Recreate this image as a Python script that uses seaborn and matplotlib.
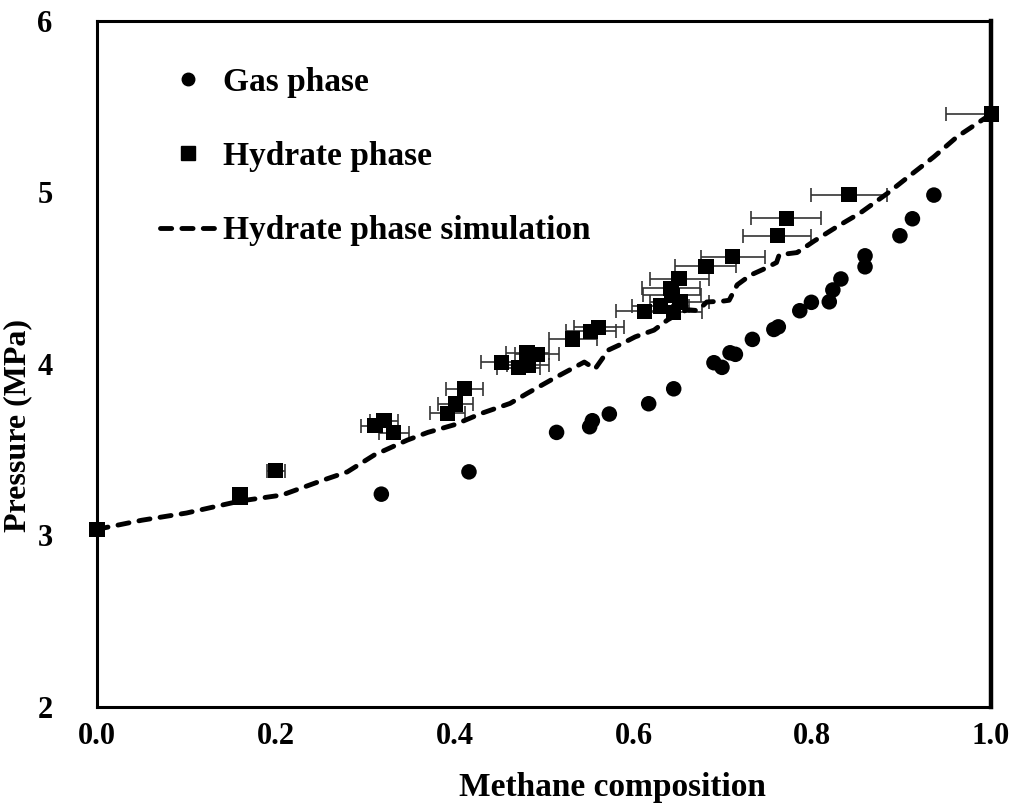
import matplotlib
matplotlib.use("Agg")
import matplotlib.pyplot as plt
from matplotlib.lines import Line2D
from matplotlib.ticker import FixedLocator, FormatStrFormatter
import seaborn as sns
import pandas as pd

# Gas-phase composition vs pressure
gas_x = [0.318, 0.416, 0.514, 0.551, 0.554, 0.573, 0.617, 0.645, 0.690, 0.699,
         0.708, 0.714, 0.733, 0.757, 0.762, 0.786, 0.799, 0.819, 0.823, 0.832,
         0.859, 0.859, 0.898, 0.912, 0.936]
gas_p = [3.24, 3.37, 3.60, 3.633, 3.668, 3.707, 3.767, 3.854, 4.006, 3.979,
         4.064, 4.055, 4.142, 4.200, 4.215, 4.309, 4.358, 4.361, 4.430, 4.494,
         4.565, 4.629, 4.746, 4.845, 4.983]

# Hydrate-phase composition vs pressure, with composition uncertainty
hyd_x = [0.000, 0.160, 0.160, 0.200, 0.311, 0.321, 0.332, 0.392, 0.401, 0.411,
         0.452, 0.471, 0.481, 0.482, 0.492, 0.532, 0.552, 0.561, 0.612, 0.630,
         0.642, 0.643, 0.645, 0.652, 0.651, 0.681, 0.711, 0.761, 0.771, 0.841,
         1.000]
hyd_p = [3.035, 3.240, 3.220, 3.376, 3.640, 3.668, 3.598, 3.711, 3.765, 3.854,
         4.008, 3.977, 4.064, 3.990, 4.055, 4.144, 4.190, 4.212, 4.306, 4.336,
         4.440, 4.400, 4.300, 4.360, 4.495, 4.569, 4.624, 4.746, 4.847, 4.985,
         5.455]
hyd_err = [0.000, 0.008, 0.008, 0.010, 0.016, 0.016, 0.017, 0.020, 0.020, 0.021,
           0.023, 0.024, 0.024, 0.024, 0.025, 0.027, 0.028, 0.028, 0.031, 0.032,
           0.032, 0.032, 0.032, 0.033, 0.033, 0.034, 0.036, 0.038, 0.039, 0.042,
           0.050]

# Simulated hydrate-phase curve
sim_x = [0.000, 0.050, 0.100, 0.160, 0.207, 0.253, 0.280, 0.310, 0.347, 0.370,
         0.400, 0.430, 0.462, 0.481, 0.511, 0.545, 0.557, 0.572, 0.584, 0.602,
         0.623, 0.638, 0.651, 0.660, 0.672, 0.682, 0.700, 0.707, 0.716, 0.731,
         0.745, 0.760, 0.763, 0.783, 0.802, 0.828, 0.854, 0.884, 0.910, 0.936,
         0.962, 1.000]
sim_p = [3.035, 3.088, 3.130, 3.200, 3.235, 3.322, 3.370, 3.468, 3.555, 3.600,
         3.645, 3.711, 3.769, 3.827, 3.915, 4.010, 3.970, 4.080, 4.109, 4.157,
         4.196, 4.255, 4.294, 4.315, 4.310, 4.360, 4.365, 4.370, 4.460, 4.517,
         4.550, 4.590, 4.635, 4.648, 4.715, 4.800, 4.880, 4.993, 5.100, 5.206,
         5.323, 5.455]

x_ticks = [0.0, 0.2, 0.4, 0.6, 0.8, 1.0]
y_ticks = [2, 3, 4, 5, 6]

sns.set_style("white")
plt.rcParams["font.family"] = ["Liberation Serif", "DejaVu Serif"]
plt.rcParams["font.weight"] = "bold"
plt.rcParams["text.color"] = "black"
plt.rcParams["axes.labelcolor"] = "black"
plt.rcParams["xtick.color"] = "black"
plt.rcParams["ytick.color"] = "black"

gas_df = pd.DataFrame({"x": gas_x, "p": gas_p})
hyd_df = pd.DataFrame({"x": hyd_x, "p": hyd_p, "err": hyd_err})
sim_df = pd.DataFrame({"x": sim_x, "p": sim_p})

fig = plt.figure(figsize=(10.16, 8.07), dpi=100)
ax = fig.add_axes([0.0955, 0.124, 0.880, 0.8505])

ax.errorbar(hyd_df["x"], hyd_df["p"], xerr=hyd_df["err"], fmt="none",
            ecolor="#333333", elinewidth=1.2, capsize=5, capthick=1.2, zorder=2)

sns.lineplot(data=sim_df, x="x", y="p", ax=ax, color="black", linewidth=3.5,
             sort=False, estimator=None, zorder=3)
sim_line = ax.lines[-1]
sim_line.set_linestyle((0, (2.3, 2.1)))
sim_line.set_dash_capstyle("round")

sns.scatterplot(data=gas_df, x="x", y="p", ax=ax, marker="o", s=125,
                color="black", edgecolor="none", zorder=4, clip_on=False)
sns.scatterplot(data=hyd_df, x="x", y="p", ax=ax, marker="s", s=120,
                color="black", edgecolor="none", zorder=5, clip_on=False)

ax.set_xlim(0, 1.0)
ax.set_ylim(2, 6)
ax.xaxis.set_major_locator(FixedLocator(x_ticks))
ax.yaxis.set_major_locator(FixedLocator(y_ticks))
ax.xaxis.set_major_formatter(FormatStrFormatter("%.1f"))
ax.yaxis.set_major_formatter(FormatStrFormatter("%d"))
ax.tick_params(axis="both", direction="out", length=6, width=1.2,
               color="#888888", labelcolor="black", labelsize=22)
ax.tick_params(axis="x", pad=5)
ax.tick_params(axis="y", pad=26)
for lab in ax.get_xticklabels() + ax.get_yticklabels():
    lab.set_fontweight("bold")

for name, sp in ax.spines.items():
    sp.set_color("black")
    sp.set_linewidth(2.2)
ax.spines["right"].set_linewidth(3.2)

ax.set_xlabel("Methane composition", fontsize=24, fontweight="bold")
ax.set_ylabel("Pressure (MPa)", fontsize=23, fontweight="bold")
ax.xaxis.set_label_coords(0.576, -0.095)
ax.yaxis.set_label_coords(-0.073, 0.41)

handles = [
    Line2D([], [], marker="o", linestyle="none", color="black", markersize=9),
    Line2D([], [], marker="s", linestyle="none", color="black", markersize=9.5),
    Line2D([], [], color="black", linewidth=3.5, linestyle=(0, (2.3, 2.1)),
           dash_capstyle="round"),
]
labels = ["Gas phase", "Hydrate phase", "Hydrate phase simulation"]
ax.legend(handles, labels, loc="upper left", bbox_to_anchor=(0.0705, 0.933),
          frameon=False, handlelength=1.67, handletextpad=0.21,
          labelspacing=1.3, borderpad=0, borderaxespad=0,
          prop={"family": "Liberation Serif", "weight": "bold", "size": 24})

fig.savefig("out.png", dpi=100)
